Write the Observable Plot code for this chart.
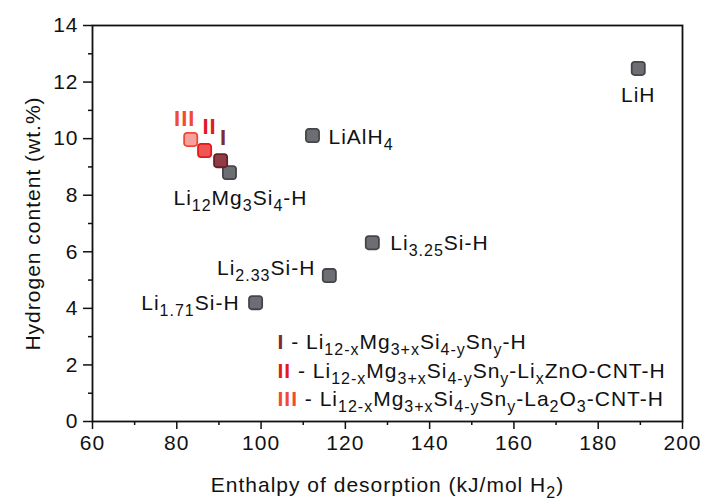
<!DOCTYPE html>
<html><head><meta charset="utf-8">
<script src="https://cdn.jsdelivr.net/npm/d3@7"></script>
<script src="https://cdn.jsdelivr.net/npm/@observablehq/plot@0.6"></script>
<style>
body{margin:0;background:#fff;}
#chart{width:703px;height:499px;}
svg text, svg tspan{white-space:pre;}
svg text{letter-spacing:1px;}
</style>
</head><body><div id="chart"></div>
<script>
// Reference compounds
const compounds = ["LiH", "LiAlH_{4}", "Li_{12}Mg_{3}Si_{4}-H", "Li_{3.25}Si-H", "Li_{2.33}Si-H", "Li_{1.71}Si-H"];
const enthalpy = [189.5, 112.2, 92.5, 126.4, 116.2, 98.7];
const hContent = [12.48, 10.11, 8.80, 6.32, 5.16, 4.20];
const labelAnchor = ["middle", "start", "middle", "start", "end", "end"];
const labelDx = [0, 16, 11, 18, -14, -16];
const labelDy = [27, 2, 26, 1, -7, 1];

// Modified Li12Mg3Si4 samples (drawn III, II, I)
const samples = ["III", "II", "I"];
const sampleEnthalpy = [83.3, 86.6, 90.4];
const sampleH = [9.97, 9.58, 9.22];
const sampleFill = ["#f5a29e", "#ef5552", "#8e3c45"];
const sampleStroke = ["#f04a34", "#e3191e", "#6b1e28"];
const numeralColor = ["#f04a34", "#e3191e", "#7d2a31"];
const numeralDx = [-6, 5, 3];
const numeralDy = [-21, -24, -23];

// Legend
const legendNumerals = ["I", "II", "III"];
const legendColors = ["#7d2a31", "#e3191e", "#f04a34"];
const legendTexts = [
  " - Li_{12-x}Mg_{3+x}Si_{4-y}Sn_{y}-H",
  " - Li_{12-x}Mg_{3+x}Si_{4-y}Sn_{y}-Li_{x}ZnO-CNT-H",
  " - Li_{12-x}Mg_{3+x}Si_{4-y}Sn_{y}-La_{2}O_{3}-CNT-H"
];
const legendDy = [-79, -50, -22];

const xMajor = d3.range(60, 201, 20);
const xMinor = d3.range(70, 200, 20);
const yMajor = d3.range(0, 15, 2);
const yMinor = d3.range(1, 15, 2);

const points = compounds.map((c, i) => ({c, x: enthalpy[i], y: hContent[i], a: labelAnchor[i], dx: labelDx[i], dy: labelDy[i]}));
const sampleData = samples.map((s, i) => ({s, x: sampleEnthalpy[i], y: sampleH[i], fill: sampleFill[i], stroke: sampleStroke[i], col: numeralColor[i], dx: numeralDx[i], dy: numeralDy[i]}));
const legendData = legendNumerals.map((n, i) => ({t: `[${legendColors[i]}|${n}]${legendTexts[i]}`, dy: legendDy[i]}));

const roundedSquare = {
  draw(ctx, size) {
    const s = Math.sqrt(size), h = s / 2, r = 2.8;
    ctx.moveTo(-h + r, -h);
    ctx.arcTo(h, -h, h, h, r);
    ctx.arcTo(h, h, -h, h, r);
    ctx.arcTo(-h, h, -h, -h, r);
    ctx.arcTo(-h, -h, h, -h, r);
    ctx.closePath();
  }
};

const FONT = "'Liberation Sans', Arial, Helvetica, sans-serif";

const chart = Plot.plot({
  width: 703,
  height: 499,
  marginLeft: 92,
  marginRight: 21,
  marginTop: 25,
  marginBottom: 78,
  style: {fontFamily: FONT, fontSize: "21px", color: "#111", background: "#fff"},
  x: {domain: [60, 200]},
  y: {domain: [0, 14]},
  marks: [
    Plot.axisX(xMajor, {tickSize: 8, tickPadding: 6, fontSize: 21, strokeWidth: 1.5, label: "Enthalpy of desorption (kJ/mol H_{2})", labelAnchor: "center", labelOffset: 70, labelArrow: "none"}),
    Plot.axisX(xMinor, {tickSize: 4, text: null, strokeWidth: 1.5, label: null}),
    Plot.axisY(yMajor, {tickSize: 9, tickPadding: 5, fontSize: 21, strokeWidth: 1.5, label: "Hydrogen content (wt.%)", labelAnchor: "center", labelOffset: 67, labelArrow: "none"}),
    Plot.axisY(yMinor, {tickSize: 4, text: null, strokeWidth: 1.5, label: null}),
    Plot.frame({stroke: "#111", strokeWidth: 1.8}),
    Plot.dot(points, {x: "x", y: "y", r: 7.4, symbol: roundedSquare, fill: "#6d6e73", stroke: "#45464a", strokeWidth: 1.8}),
    Plot.dot(sampleData, {x: "x", y: "y", r: 7.4, symbol: roundedSquare, fill: d => d.fill, stroke: d => d.stroke, strokeWidth: 1.8}),
    ...points.map(d => Plot.text([d], {x: "x", y: "y", text: "c", textAnchor: d.a, dx: d.dx, dy: d.dy, fontSize: 21, fill: "#111"})),
    ...sampleData.map(d => Plot.text([d], {x: "x", y: "y", text: "s", fontSize: 22, fontWeight: "bold", fill: d.col, dx: d.dx, dy: d.dy})),
    ...legendData.map(d => Plot.text([d], {text: "t", frameAnchor: "bottom-left", textAnchor: "start", lineAnchor: "middle", dx: 185, dy: d.dy, fontSize: 21, fill: "#111"}))
  ]
});

// Render sub-script / coloured markup into tspans
const NS = "http://www.w3.org/2000/svg";
const SUB_SIZE = "16px", SHIFT = 6;
function rich(el) {
  const markup = el.textContent;
  if (!/_\{|\[#/.test(markup)) return;
  while (el.firstChild) el.removeChild(el.firstChild);
  const re = /_\{([^}]*)\}|\[(#[0-9a-fA-F]+)\|([^\]]*)\]|([^_\[]+)/g;
  let m, shifted = false;
  while ((m = re.exec(markup))) {
    const t = document.createElementNS(NS, "tspan");
    if (m[1] !== undefined) {
      t.textContent = m[1];
      t.setAttribute("font-size", SUB_SIZE);
      if (!shifted) { t.setAttribute("dy", SHIFT); shifted = true; }
    } else {
      t.textContent = m[3] !== undefined ? m[3] : m[4];
      if (m[2]) { t.setAttribute("fill", m[2]); t.setAttribute("font-weight", "bold"); }
      if (shifted) { t.setAttribute("dy", -SHIFT); shifted = false; }
    }
    el.appendChild(t);
  }
}
chart.querySelectorAll("text").forEach(rich);
document.getElementById("chart").appendChild(chart);
</script>
</body></html>
